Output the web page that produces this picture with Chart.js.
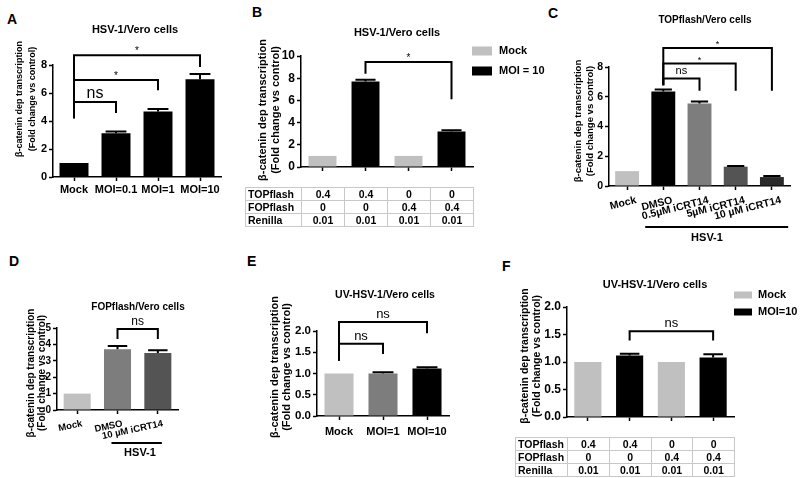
<!DOCTYPE html>
<html>
<head>
<meta charset="utf-8">
<script src="https://cdn.jsdelivr.net/npm/chart.js@4.4.1/dist/chart.umd.min.js"></script>
<style>
body { margin: 0; background: #fff; width: 800px; height: 478px; position: relative; overflow: hidden; font-family: "Liberation Sans", Arial, sans-serif; }
.letter { position: absolute; font-weight: bold; font-size: 14px; line-height: 14px; }
table.cond { position: absolute; border-collapse: collapse; table-layout: fixed; font-weight: bold; font-size: 10.5px; }
table.cond td { border: 1px solid #c8c8c8; padding: 0; height: 12px; line-height: 12px; text-align: center; overflow: hidden; white-space: nowrap; }
table.cond td:first-child { text-align: left; padding-left: 2px; }
</style>
</head>
<body>
<div class="letter" style="left:7px;top:12px">A</div>
<div class="letter" style="left:252px;top:5px">B</div>
<div class="letter" style="left:548px;top:6px">C</div>
<div class="letter" style="left:9px;top:254px">D</div>
<div class="letter" style="left:247px;top:254px">E</div>
<div class="letter" style="left:502px;top:259px">F</div>

<script>
// ---- data ----
// A: HSV-1/Vero cells
var catsA = ['Mock', 'MOI=0.1', 'MOI=1', 'MOI=10'];
var valsA = [1, 3.12, 4.67, 6.98];
var errA = [0, 0.13, 0.18, 0.37];
var yTicksA = [0, 2, 4, 6, 8];
var sigA = [
    {from: 0, to: 3, top: 8.7, leftEnd: 4.2, rightEnd: 7.85, text: '*'},
    {from: 0, to: 2, top: 6.93, leftEnd: 4.2, rightEnd: 6.2, text: '*'},
    {from: 0, to: 1, top: 5.36, leftEnd: 4.2, rightEnd: 4.57, text: 'ns'}
];

// B: HSV-1/Vero cells, TOP/FOP
var catsB = ['TOP mock', 'TOP MOI', 'FOP mock', 'FOP MOI'];
var mockB = [1, null, 1, null];
var moiB = [null, 7.7, null, 3.2];
var moiErrB = [null, 0.15, null, 0.1];
var yTicksB = [0, 2, 4, 6, 8, 10];
var sigB = [{from: 1, to: 3, top: 9.46, leftEnd: 8.4, rightEnd: 6.1, text: '*'}];

// table under B and F
var rowNames = ['TOPflash', 'FOPflash', 'Renilla'];
var topflash = ['0.4', '0.4', '0', '0'];
var fopflash = ['0', '0', '0.4', '0.4'];
var renilla = ['0.01', '0.01', '0.01', '0.01'];

// C: TOPflash/Vero cells
var catsC = ['Mock', 'DMSO', '0.5µM iCRT14', '5µM iCRT14', '10 µM iCRT14'];
var valsC = [1, 6.35, 5.55, 1.3, 0.6];
var errC = [0, 0.13, 0.13, 0.05, 0.07];
var yTicksC = [0, 2, 4, 6, 8];
var sigC = [
    {from: 1, to: 4, top: 9.28, leftEnd: 6.78, rightEnd: 6.4, text: '*'},
    {from: 1, to: 3, top: 8.23, leftEnd: 6.78, rightEnd: 6.4, text: '*'},
    {from: 1, to: 2, top: 7.23, leftEnd: 6.78, rightEnd: 6.4, text: 'ns'}
];

// D: FOPflash/Vero cells
var catsD = ['Mock', 'DMSO', '10 µM iCRT14'];
var valsD = [1, 3.7, 3.47];
var errD = [0, 0.2, 0.18];
var yTicksD = [0, 1, 2, 3, 4, 5];
var sigD = [{from: 1, to: 2, top: 4.94, leftEnd: 4.33, rightEnd: 4.33, text: 'ns'}];

// E: UV-HSV-1/Vero cells
var catsE = ['Mock', 'MOI=1', 'MOI=10'];
var valsE = [1, 1.0, 1.12];
var errE = [0, 0.03, 0.03];
var yTicksE = [0, 0.5, 1, 1.5, 2];
var sigE = [
    {from: 0, to: 2, top: 2.21, leftEnd: 1.3, rightEnd: 1.95, text: 'ns'},
    {from: 0, to: 1, top: 1.7, leftEnd: 1.3, rightEnd: 1.46, text: 'ns'}
];

// F: UV-HSV-1/Vero cells, TOP/FOP
var mockF = [1, null, 1, null];
var moiF = [null, 1.12, null, 1.08];
var moiErrF = [null, 0.03, null, 0.06];
var yTicksF = [0, 0.5, 1, 1.5, 2];
var sigF = [{from: 1, to: 3, top: 1.56, leftEnd: 1.39, rightEnd: 1.39, text: 'ns'}];

var yLines = ['β-catenin dep transcription', '(Fold change vs control)'];
var LIGHT = '#c0c0c0', MID = '#7d7d7d', DARK = '#545454', DARKER = '#2a2a2a', BLACK = '#000';

Chart.defaults.font.family = '"Liberation Sans", Arial, sans-serif';
Chart.defaults.color = '#000';

// draws error bars, significance brackets, titles and hand-placed legend
var decor = {
    id: 'decor',
    afterDatasetsDraw: function(chart, args, o) {
        var ctx = chart.ctx, xs = chart.scales.x, ys = chart.scales.y;
        ctx.save();
        ctx.strokeStyle = '#000';
        ctx.fillStyle = '#000';
        ctx.lineCap = 'butt';

        // error bars (up only)
        chart.data.datasets.forEach(function(ds, di) {
            if (!ds.errors) return;
            chart.getDatasetMeta(di).data.forEach(function(bar, i) {
                var e = ds.errors[i];
                if (!e || ds.data[i] == null) return;
                var top = ys.getPixelForValue(ds.data[i] + e);
                var cw = bar.width * 0.36;
                ctx.lineWidth = 2;
                ctx.beginPath();
                ctx.moveTo(bar.x, bar.y);
                ctx.lineTo(bar.x, top);
                ctx.moveTo(bar.x - cw, top);
                ctx.lineTo(bar.x + cw, top);
                ctx.stroke();
            });
        });

        // brackets
        (o.brackets || []).forEach(function(b) {
            var x1 = xs.getPixelForValue(b.from), x2 = xs.getPixelForValue(b.to);
            var yt = ys.getPixelForValue(b.top);
            ctx.lineWidth = 2;
            ctx.beginPath();
            ctx.moveTo(x1, ys.getPixelForValue(b.leftEnd));
            ctx.lineTo(x1, yt);
            ctx.lineTo(x2, yt);
            ctx.lineTo(x2, ys.getPixelForValue(b.rightEnd));
            ctx.stroke();
            var star = b.text === '*';
            ctx.font = (star ? o.starSize : o.nsSize) + 'px "Liberation Sans", Arial';
            ctx.textAlign = 'center';
            ctx.textBaseline = 'alphabetic';
            ctx.fillText(b.text, (x1 + x2) / 2, yt - (star ? 1 : 4));
        });

        // absolute-position decorations
        ctx.translate(-o.origin[0], -o.origin[1]);
        if (o.title) {
            ctx.font = 'bold ' + o.title.size + 'px "Liberation Sans", Arial';
            ctx.textAlign = 'center';
            ctx.textBaseline = 'middle';
            ctx.fillText(o.title.text, o.title.x, o.title.y);
        }
        if (o.ytitle) {
            ctx.font = 'bold ' + o.ytitle.size + 'px "Liberation Sans", Arial';
            ctx.textAlign = 'center';
            ctx.textBaseline = 'middle';
            yLines.forEach(function(line, i) {
                ctx.save();
                ctx.translate(o.ytitle.x[i], o.ytitle.cy);
                ctx.rotate(-Math.PI / 2);
                ctx.fillText(line, 0, 0);
                ctx.restore();
            });
        }
        if (o.group) {
            var g = o.group;
            var ox = o.origin[0];
            var gx1 = xs.getPixelForValue(g.from) + ox, gx2 = xs.getPixelForValue(g.to) + ox;
            ctx.lineWidth = 2;
            ctx.beginPath();
            ctx.moveTo(gx1, g.y);
            ctx.lineTo(gx2, g.y);
            ctx.stroke();
            ctx.font = 'bold 11px "Liberation Sans", Arial';
            ctx.textAlign = 'center';
            ctx.textBaseline = 'middle';
            ctx.fillText(g.text, g.tx, g.ty);
        }
        if (o.legend) {
            var L = o.legend;
            ctx.font = 'bold ' + L.size + 'px "Liberation Sans", Arial';
            ctx.textAlign = 'left';
            ctx.textBaseline = 'middle';
            chart.data.datasets.forEach(function(ds, i) {
                ctx.fillStyle = ds.backgroundColor;
                ctx.fillRect(L.x, L.ys[i] - L.bh / 2, L.bw, L.bh);
                ctx.fillStyle = '#000';
                ctx.fillText(ds.label, L.tx, L.ys[i]);
            });
        }
        ctx.restore();
    }
};

function makePanel(p) {
    var box = p.box, area = p.area;
    var YW = 30, XH = p.xh || 22;
    var cv = document.createElement('canvas');
    cv.width = box[2];
    cv.height = box[3];
    cv.style.cssText = 'position:absolute;left:' + box[0] + 'px;top:' + box[1] + 'px;width:' + box[2] + 'px;height:' + box[3] + 'px';
    document.body.appendChild(cv);

    var pad = {
        left: area[0] - box[0] - YW,
        top: area[1] - box[1],
        right: box[0] + box[2] - area[2],
        bottom: box[1] + box[3] - area[3] - XH
    };
    var yt = p.yTicks;
    var axisLine = {color: '#000', width: 1.5};

    return new Chart(cv, {
        type: 'bar',
        data: {labels: p.labels, datasets: p.datasets},
        options: {
            responsive: false,
            animation: false,
            events: [],
            layout: {padding: pad},
            datasets: {bar: {categoryPercentage: 1, barPercentage: p.barPct, borderWidth: 0, skipNull: true}},
            plugins: {
                legend: {display: false},
                tooltip: {enabled: false},
                decor: p.decor
            },
            scales: {
                x: {
                    offset: true,
                    border: axisLine,
                    grid: {drawOnChartArea: false, offset: false, tickLength: 4, tickWidth: 1.5, tickColor: '#000'},
                    ticks: {
                        display: p.showX !== false,
                        autoSkip: false,
                        minRotation: p.rot || 0,
                        maxRotation: p.rot || 0,
                        labelOffset: p.labelOffset || 0,
                        padding: p.xPad || 2,
                        font: {size: p.xSize || 11, weight: 'bold'}
                    },
                    afterFit: function(s) { s.height = XH; }
                },
                y: {
                    min: 0,
                    max: yt[yt.length - 1],
                    border: axisLine,
                    grid: {drawOnChartArea: false, tickLength: 4, tickWidth: 1.5, tickColor: '#000'},
                    afterBuildTicks: function(s) { s.ticks = yt.map(function(v) { return {value: v}; }); },
                    ticks: {
                        padding: 2,
                        font: {size: p.ySize || 11, weight: 'bold'},
                        callback: function(v) { return p.decimals ? Number(v).toFixed(1) : v; }
                    },
                    afterFit: function(s) { s.width = YW; }
                }
            }
        },
        plugins: [decor]
    });
}

function makeTable(left, top, firstW, colW) {
    var t = document.createElement('table');
    t.className = 'cond';
    t.style.left = left + 'px';
    t.style.top = top + 'px';
    t.style.width = (firstW + colW * 4) + 'px';
    var cg = '<colgroup><col style="width:' + firstW + 'px">';
    for (var i = 0; i < 4; i++) cg += '<col style="width:' + colW + 'px">';
    cg += '</colgroup>';
    var cols = [topflash, fopflash, renilla];
    var html = cg;
    rowNames.forEach(function(name, r) {
        html += '<tr><td>' + name + '</td>';
        cols[r].forEach(function(v) { html += '<td>' + v + '</td>'; });
        html += '</tr>';
    });
    t.innerHTML = html;
    document.body.appendChild(t);
}

// A
makePanel({
    box: [0, 0, 240, 250], area: [53, 65, 221, 177], xh: 22,
    labels: catsA, yTicks: yTicksA, barPct: 0.69,
    datasets: [{label: 'A', data: valsA, errors: errA, backgroundColor: BLACK}],
    decor: {
        origin: [0, 0], brackets: sigA, nsSize: 16, starSize: 10,
        title: {text: 'HSV-1/Vero cells', x: 135, y: 30, size: 11},
        ytitle: {x: [20, 33], cy: 99, size: 9}
    }
});

// B
makePanel({
    box: [240, 0, 310, 240], area: [301, 56, 473, 167], xh: 20,
    labels: catsB, yTicks: yTicksB, barPct: 0.65, showX: false, ySize: 12,
    datasets: [
        {label: 'Mock', data: mockB, backgroundColor: LIGHT},
        {label: 'MOI = 10', data: moiB, errors: moiErrB, backgroundColor: BLACK}
    ],
    decor: {
        origin: [240, 0], brackets: sigB, nsSize: 12, starSize: 10,
        title: {text: 'HSV-1/Vero cells', x: 397, y: 33, size: 11},
        ytitle: {x: [263, 276], cy: 110, size: 11},
        legend: {x: 472, ys: [51, 71], bw: 20, bh: 9, tx: 499, size: 11}
    }
});
makeTable(245, 187, 56, 43);

// C
makePanel({
    box: [540, 0, 260, 260], area: [609, 67, 790, 186], xh: 40,
    labels: catsC, yTicks: yTicksC, barPct: 0.66, rot: 14, labelOffset: 9, xPad: 4, xSize: 10.5, ySize: 10.5,
    datasets: [{label: 'C', data: valsC, errors: errC, backgroundColor: [LIGHT, BLACK, MID, DARK, DARKER]}],
    decor: {
        origin: [540, 0], brackets: sigC, nsSize: 11, starSize: 9,
        title: {text: 'TOPflash/Vero cells', x: 705, y: 20, size: 10},
        ytitle: {x: [578, 590], cy: 121, size: 9.5},
        group: {from: 0.5, to: 4.45, y: 227, text: 'HSV-1', tx: 707, ty: 238}
    }
});

// D
makePanel({
    box: [0, 260, 240, 218], area: [57, 328, 178, 410], xh: 30,
    labels: catsD, yTicks: yTicksD, barPct: 0.67, rot: 12, labelOffset: 5, xPad: 4, xSize: 9.5, ySize: 10,
    datasets: [{label: 'D', data: valsD, errors: errD, backgroundColor: [LIGHT, MID, DARK]}],
    decor: {
        origin: [0, 260], brackets: sigD, nsSize: 12, starSize: 9,
        title: {text: 'FOPflash/Vero cells', x: 138, y: 307, size: 10},
        ytitle: {x: [31, 42], cy: 373, size: 10},
        group: {from: 0.85, to: 2.1, y: 443, text: 'HSV-1', tx: 140, ty: 453}
    }
});

// E
makePanel({
    box: [240, 260, 260, 218], area: [317, 331, 449, 416], xh: 22,
    labels: catsE, yTicks: yTicksE, barPct: 0.66, xPad: 5, xSize: 11, ySize: 11.5, decimals: true,
    datasets: [{label: 'E', data: valsE, errors: errE, backgroundColor: [LIGHT, MID, BLACK]}],
    decor: {
        origin: [240, 260], brackets: sigE, nsSize: 13, starSize: 9,
        title: {text: 'UV-HSV-1/Vero cells', x: 385, y: 295, size: 10.5},
        ytitle: {x: [275, 287], cy: 367, size: 11}
    }
});

// F
makePanel({
    box: [500, 260, 300, 218], area: [567, 307, 734, 417], xh: 18,
    labels: catsB, yTicks: yTicksF, barPct: 0.65, showX: false, ySize: 12, decimals: true,
    datasets: [
        {label: 'Mock', data: mockF, backgroundColor: LIGHT},
        {label: 'MOI=10', data: moiF, errors: moiErrF, backgroundColor: BLACK}
    ],
    decor: {
        origin: [500, 260], brackets: sigF, nsSize: 13, starSize: 9,
        title: {text: 'UV-HSV-1/Vero cells', x: 655, y: 285, size: 11},
        ytitle: {x: [525, 537], cy: 356, size: 10.5},
        legend: {x: 734, ys: [295, 312], bw: 18, bh: 7, tx: 758, size: 11}
    }
});
makeTable(515, 437, 52, 41.75);
</script>
</body>
</html>
